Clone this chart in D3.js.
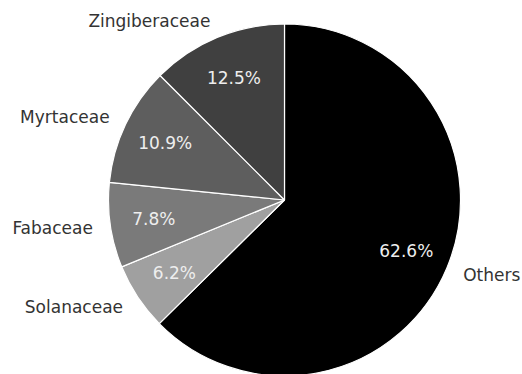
<!DOCTYPE html>
<html>
<head>
<meta charset="utf-8">
<script src="https://cdn.jsdelivr.net/npm/d3@7"></script>
<style>
  html, body { margin: 0; padding: 0; background: #fff; }
  svg { display: block; }
</style>
</head>
<body>
<svg id="chart" width="522" height="374"></svg>
<script>
// Plant families, listed clockwise from the top of the pie
const families = ["Others", "Solanaceae", "Fabaceae", "Myrtaceae", "Zingiberaceae"];
const shares = [62.6, 6.2, 7.8, 10.9, 12.5];
const fills = ["#000000", "#a0a0a0", "#7a7a7a", "#5e5e5e", "#404040"];

const width = 522, height = 374;
const cx = 284.5, cy = 200, radius = 176;

const svg = d3.select("#chart");
const g = svg.append("g").attr("transform", `translate(${cx},${cy})`);

const pie = d3.pie().sort(null).value(d => d.value);
const arcs = pie(families.map((name, i) => ({ name, value: shares[i], fill: fills[i] })));

const arc = d3.arc().innerRadius(0).outerRadius(radius);

g.selectAll("path.slice")
  .data(arcs)
  .join("path")
  .attr("class", "slice")
  .attr("d", arc)
  .attr("fill", d => d.data.fill)
  .attr("stroke", "#ffffff")
  .attr("stroke-width", 1.2)
  .attr("stroke-linejoin", "round");

const mid = d => (d.startAngle + d.endAngle) / 2;
const font = "'DejaVu Sans', sans-serif";

// percentage labels inside the slices
g.selectAll("text.pct")
  .data(arcs)
  .join("text")
  .attr("class", "pct")
  .attr("x", d => Math.sin(mid(d)) * radius * 0.75)
  .attr("y", d => -Math.cos(mid(d)) * radius * 0.75)
  .attr("text-anchor", "middle")
  .attr("dominant-baseline", "central")
  .attr("font-family", font)
  .attr("font-size", 17)
  .attr("fill", "#eeeeee")
  .text(d => d.data.value.toFixed(1) + "%");

// family names outside the pie
g.selectAll("text.name")
  .data(arcs)
  .join("text")
  .attr("class", "name")
  .attr("x", d => Math.sin(mid(d)) * radius * 1.1)
  .attr("y", d => -Math.cos(mid(d)) * radius * 1.1)
  .attr("text-anchor", d => Math.sin(mid(d)) >= 0 ? "start" : "end")
  .attr("dominant-baseline", "central")
  .attr("font-family", font)
  .attr("font-size", 17)
  .attr("fill", "#333333")
  .text(d => d.data.name);
</script>
</body>
</html>
